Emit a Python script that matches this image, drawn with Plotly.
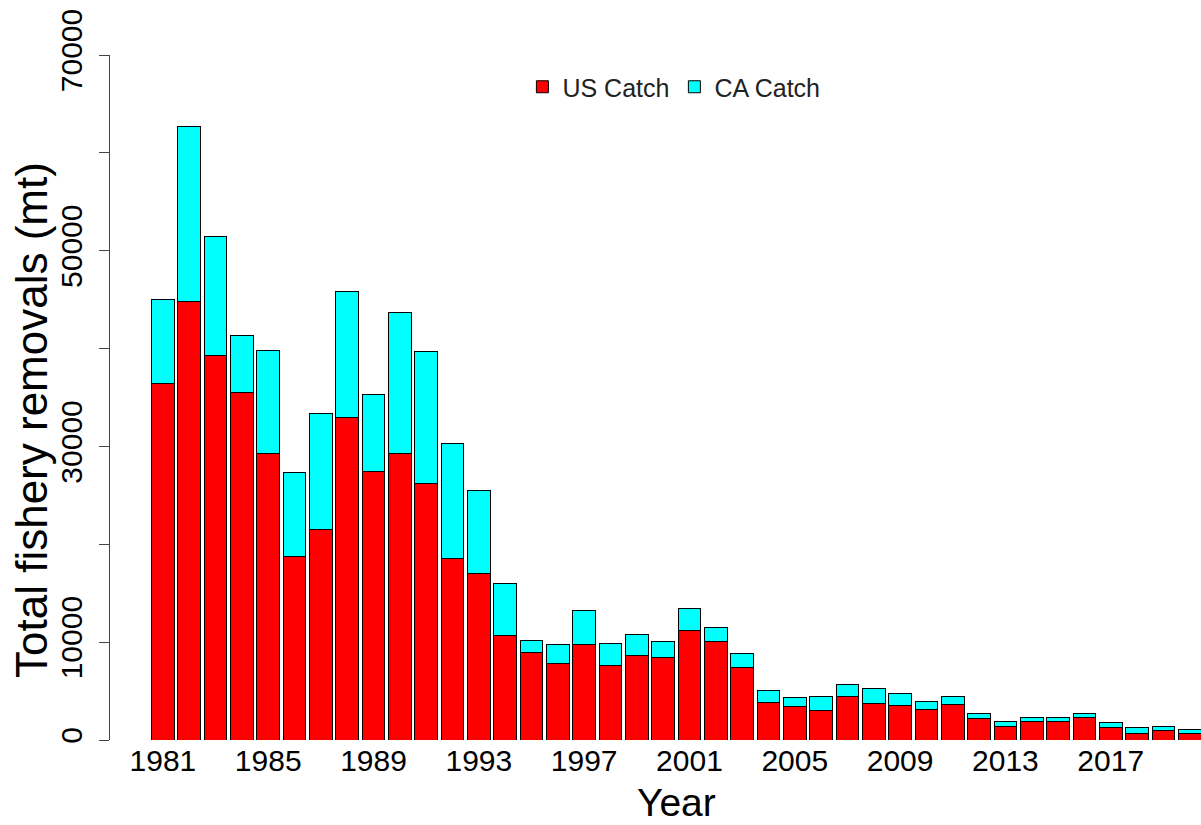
import plotly.graph_objects as go

years = list(range(1981, 2021))
us_catch = [36400, 44800, 39300, 35500, 29300, 18800, 21500, 33000, 27400, 29300,
            26200, 18500, 17000, 10700, 8960, 7770, 9810, 7600, 8620, 8480,
            11200, 10100, 7360, 3850, 3470, 3000, 4430, 3750, 3540, 3130,
            3640, 2180, 1400, 1840, 1840, 2250, 1260, 680, 990, 650]
ca_catch = [8600, 17900, 12200, 5800, 10500, 8500, 11900, 12800, 7900, 14400,
            13500, 11800, 8500, 5300, 1190, 2010, 3390, 2310, 2140, 1620,
            2200, 1400, 1530, 1260, 860, 1430, 1290, 1560, 1190, 850,
            790, 510, 440, 410, 510, 440, 550, 550, 370, 440]
x_tick_years = [1981, 1985, 1989, 1993, 1997, 2001, 2005, 2009, 2013, 2017]
y_tick_vals = [0, 10000, 20000, 30000, 40000, 50000, 60000, 70000]
y_tick_text = ["0", "10000", "", "30000", "", "50000", "", "70000"]

FONT = "Liberation Sans, Arial, Helvetica, sans-serif"

fig = go.Figure()
fig.add_trace(go.Bar(x=years, y=us_catch, name="US Catch",
                     marker=dict(color="#FF0000", line=dict(color="#000000", width=1))))
fig.add_trace(go.Bar(x=years, y=ca_catch, name="CA Catch",
                     marker=dict(color="#00FFFF", line=dict(color="#000000", width=1))))

fig.update_layout(
    barmode="stack",
    bargap=0.138,
    width=1201, height=825,
    margin=dict(l=110, r=0, t=55, b=85),
    plot_bgcolor="white", paper_bgcolor="white",
    font=dict(family=FONT, color="#000000"),
    showlegend=True,
    legend=dict(orientation="h", x=0.378, y=(740 - 87) / 685, xanchor="left", yanchor="middle",
                font=dict(size=25, family=FONT, color="#222222"),
                bgcolor="rgba(0,0,0,0)", traceorder="normal"),
    xaxis=dict(range=[1978.99, 2020.43], tickvals=x_tick_years,
               ticktext=[str(v) for v in x_tick_years],
               showline=False, showgrid=False, zeroline=False, ticks="",
               tickfont=dict(size=30, family=FONT)),
    yaxis=dict(range=[0, 70000], tickvals=y_tick_vals, ticktext=y_tick_text,
               showline=True, linecolor="#444444", linewidth=1,
               ticks="outside", ticklen=10, tickcolor="#444444",
               ticklabelstandoff=5,
               showgrid=False, zeroline=False, tickangle=-90,
               tickfont=dict(size=30, family=FONT)),
    annotations=[
        dict(text="Total fishery removals (mt)", textangle=-90,
             xref="paper", yref="paper", x=(31 - 110) / 1091, y=(740 - 420) / 685,
             xanchor="center", yanchor="middle", showarrow=False,
             font=dict(size=44, family=FONT)),
        dict(text="Year", xref="paper", yref="paper",
             x=(676 - 110) / 1091, y=(740 - 803) / 685,
             xanchor="center", yanchor="middle", showarrow=False,
             font=dict(size=39, family=FONT)),
    ],
)

fig.write_html("out.html", config={"displayModeBar": False},
               post_script="document.body.style.margin='0px';")
